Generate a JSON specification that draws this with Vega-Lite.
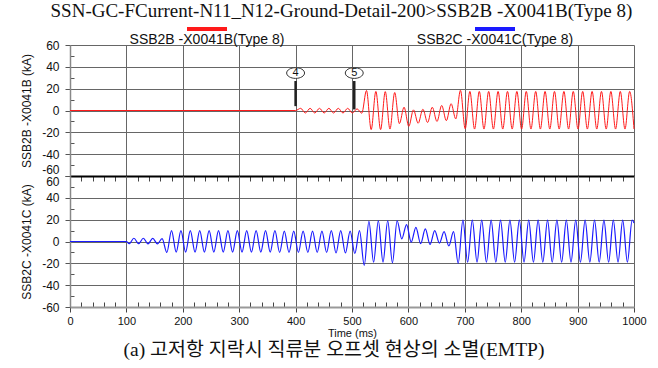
{
  "$schema": "https://vega.github.io/schema/vega-lite/v6.json",
  "background": "white",
  "padding": {"left": 20, "top": 2, "right": 8, "bottom": 2},
  "title": {"text": "SSN-GC-FCurrent-N11_N12-Ground-Detail-200>SSB2B -X0041B(Type 8)", "font": "Liberation Serif", "fontSize": 19, "fontWeight": "normal", "color": "#111", "anchor": "middle", "offset": -14, "dx": 8},
  "config": {"font": "Liberation Sans", "view": {"stroke": null}},
  "datasets": {
    "w": [
      {"s":"B","t":0,"i":0},{"s":"B","t":400,"i":0},{"s":"B","t":409,"i":2},{"s":"B","t":417.3,"i":-2.3},{"s":"B","t":425.7,"i":2},{"s":"B","t":434,"i":-2.3},{"s":"B","t":442.3,"i":2},{"s":"B","t":450.7,"i":-2.3},{"s":"B","t":459,"i":2},{"s":"B","t":467.3,"i":-2.3},{"s":"B","t":475.7,"i":2},{"s":"B","t":484,"i":-2.3},{"s":"B","t":492.3,"i":2},{"s":"B","t":500.7,"i":-2.3},{"s":"B","t":509,"i":1.5},{"s":"B","t":517.3,"i":-2.5},{"s":"B","t":525.7,"i":18.3},{"s":"B","t":534,"i":-17.5},{"s":"B","t":542.3,"i":17.5},{"s":"B","t":550.7,"i":-17.5},{"s":"B","t":559,"i":17.3},{"s":"B","t":567.3,"i":-17},{"s":"B","t":575.7,"i":16.5},{"s":"B","t":584,"i":-12},{"s":"B","t":592.3,"i":3},{"s":"B","t":600.7,"i":-14.5},{"s":"B","t":609,"i":0.6},{"s":"B","t":617.3,"i":-11.7},{"s":"B","t":625.7,"i":1.2},{"s":"B","t":634,"i":-11},{"s":"B","t":642.3,"i":3},{"s":"B","t":650.7,"i":-10},{"s":"B","t":659,"i":4.6},{"s":"B","t":667.3,"i":-9.3},{"s":"B","t":675.7,"i":6.2},{"s":"B","t":684,"i":-7.7},{"s":"B","t":692.3,"i":18.5},{"s":"B","t":700.7,"i":-16.8},{"s":"B","t":709,"i":17.5},{"s":"B","t":717.3,"i":-17},{"s":"B","t":725.7,"i":17.5},{"s":"B","t":734,"i":-17},{"s":"B","t":742.3,"i":17.5},{"s":"B","t":750.7,"i":-17},{"s":"B","t":759,"i":17.5},{"s":"B","t":767.3,"i":-17},{"s":"B","t":775.7,"i":17.5},{"s":"B","t":784,"i":-17},{"s":"B","t":792.3,"i":17.5},{"s":"B","t":800.7,"i":-17},{"s":"B","t":809,"i":17.5},{"s":"B","t":817.3,"i":-17},{"s":"B","t":825.7,"i":17.5},{"s":"B","t":834,"i":-17},{"s":"B","t":842.3,"i":17.5},{"s":"B","t":850.7,"i":-17},{"s":"B","t":859,"i":17.5},{"s":"B","t":867.3,"i":-17},{"s":"B","t":875.7,"i":17.5},{"s":"B","t":884,"i":-17},{"s":"B","t":892.3,"i":17.5},{"s":"B","t":900.7,"i":-17},{"s":"B","t":909,"i":17.5},{"s":"B","t":917.3,"i":-17},{"s":"B","t":925.7,"i":17.5},{"s":"B","t":934,"i":-17},{"s":"B","t":942.3,"i":17.5},{"s":"B","t":950.7,"i":-17},{"s":"B","t":959,"i":17.5},{"s":"B","t":967.3,"i":-17},{"s":"B","t":975.7,"i":17.5},{"s":"B","t":984,"i":-17},{"s":"B","t":992.3,"i":17.5},{"s":"B","t":1000,"i":-17},
      {"s":"C","t":0,"i":0},{"s":"C","t":100,"i":0},{"s":"C","t":105,"i":-2},{"s":"C","t":113.3,"i":3},{"s":"C","t":121.7,"i":-2},{"s":"C","t":130,"i":3},{"s":"C","t":138.3,"i":-2.2},{"s":"C","t":146.7,"i":2.8},{"s":"C","t":155,"i":-2.2},{"s":"C","t":163.3,"i":2.6},{"s":"C","t":171.7,"i":-10},{"s":"C","t":180,"i":10},{"s":"C","t":188.3,"i":-9.7},{"s":"C","t":196.7,"i":10},{"s":"C","t":205,"i":-9.7},{"s":"C","t":213.3,"i":10},{"s":"C","t":221.7,"i":-9.7},{"s":"C","t":230,"i":10},{"s":"C","t":238.3,"i":-9.7},{"s":"C","t":246.7,"i":10},{"s":"C","t":255,"i":-9.7},{"s":"C","t":263.3,"i":10},{"s":"C","t":271.7,"i":-9.7},{"s":"C","t":280,"i":10},{"s":"C","t":288.3,"i":-9.7},{"s":"C","t":296.7,"i":10},{"s":"C","t":305,"i":-9.7},{"s":"C","t":313.3,"i":10},{"s":"C","t":321.7,"i":-9.7},{"s":"C","t":330,"i":10},{"s":"C","t":338.3,"i":-9.7},{"s":"C","t":346.7,"i":10},{"s":"C","t":355,"i":-9.7},{"s":"C","t":363.3,"i":10},{"s":"C","t":371.7,"i":-10},{"s":"C","t":380,"i":9.5},{"s":"C","t":388.3,"i":-10},{"s":"C","t":396.7,"i":9.5},{"s":"C","t":405,"i":-10},{"s":"C","t":413.3,"i":9.5},{"s":"C","t":421.7,"i":-10},{"s":"C","t":430,"i":9.5},{"s":"C","t":438.3,"i":-10},{"s":"C","t":446.7,"i":9.5},{"s":"C","t":455,"i":-10},{"s":"C","t":463.3,"i":10},{"s":"C","t":471.7,"i":-10.5},{"s":"C","t":480,"i":10},{"s":"C","t":488.3,"i":-10.5},{"s":"C","t":496.7,"i":9.5},{"s":"C","t":505,"i":-11},{"s":"C","t":513.3,"i":10},{"s":"C","t":521.7,"i":-22},{"s":"C","t":530,"i":18.5},{"s":"C","t":538.3,"i":-19},{"s":"C","t":546.7,"i":19},{"s":"C","t":555,"i":-19},{"s":"C","t":563.3,"i":19},{"s":"C","t":571.7,"i":-19.5},{"s":"C","t":580,"i":19},{"s":"C","t":588.3,"i":2.4},{"s":"C","t":596.7,"i":15.5},{"s":"C","t":605,"i":-0.6},{"s":"C","t":613.3,"i":13},{"s":"C","t":621.7,"i":-2},{"s":"C","t":630,"i":11.5},{"s":"C","t":638.3,"i":-2.7},{"s":"C","t":646.7,"i":10},{"s":"C","t":655,"i":-1.5},{"s":"C","t":663.3,"i":9},{"s":"C","t":671.7,"i":-4},{"s":"C","t":680,"i":9},{"s":"C","t":688.3,"i":-20},{"s":"C","t":696.7,"i":19.5},{"s":"C","t":705,"i":-19},{"s":"C","t":713.3,"i":19.5},{"s":"C","t":721.7,"i":-19},{"s":"C","t":730,"i":19.5},{"s":"C","t":738.3,"i":-19},{"s":"C","t":746.7,"i":19.5},{"s":"C","t":755,"i":-19},{"s":"C","t":763.3,"i":19.5},{"s":"C","t":771.7,"i":-19},{"s":"C","t":780,"i":19.5},{"s":"C","t":788.3,"i":-19},{"s":"C","t":796.7,"i":19.5},{"s":"C","t":805,"i":-19},{"s":"C","t":813.3,"i":19.5},{"s":"C","t":821.7,"i":-19},{"s":"C","t":830,"i":19.5},{"s":"C","t":838.3,"i":-19},{"s":"C","t":846.7,"i":19.5},{"s":"C","t":855,"i":-19},{"s":"C","t":863.3,"i":19.5},{"s":"C","t":871.7,"i":-19},{"s":"C","t":880,"i":19.5},{"s":"C","t":888.3,"i":-19},{"s":"C","t":896.7,"i":19.5},{"s":"C","t":905,"i":-19},{"s":"C","t":913.3,"i":19.5},{"s":"C","t":921.7,"i":-19},{"s":"C","t":930,"i":19.5},{"s":"C","t":938.3,"i":-19},{"s":"C","t":946.7,"i":19.5},{"s":"C","t":955,"i":-19},{"s":"C","t":963.3,"i":19.5},{"s":"C","t":971.7,"i":-19},{"s":"C","t":980,"i":19.5},{"s":"C","t":988.3,"i":-19},{"s":"C","t":996.7,"i":19.5},{"s":"C","t":1000,"i":17}
    ],
    "m": [
      {"t": 400, "y0": 4, "y1": 27, "n": "4"},
      {"t": 504, "y0": 1, "y1": 27, "n": "5"}
    ]
  },
  "spacing": 0,
  "bounds": "flush",
  "vconcat": [
    {
      "width": 564,
      "height": 131,
      "resolve": {"axis": {"x": "independent", "y": "independent"}},
      "layer": [
        {
          "data": {"name": "w"},
          "transform": [{"filter": "datum.s === 'B'"}],
          "mark": {"type": "line", "interpolate": "monotone", "strokeWidth": 1},
          "encoding": {
            "x": {"field": "t", "type": "quantitative", "scale": {"domain": [0, 1000], "nice": false},
              "axis": {"title": null, "values": [0,20,40,60,80,100,120,140,160,180,200,220,240,260,280,300,320,340,360,380,400,420,440,460,480,500,520,540,560,580,600,620,640,660,680,700,720,740,760,780,800,820,840,860,880,900,920,940,960,980,1000],
                "labels": false, "tickSize": 5, "tickColor": "#444",
                "tickOpacity": {"condition": {"test": "datum.value % 100 === 0", "value": 0}, "value": 1},
                "grid": true, "gridColor": "#666",
                "gridOpacity": {"condition": {"test": "datum.value % 100 !== 0", "value": 0}, "value": 1},
                "domainColor": "#000", "domainWidth": 2}},
            "y": {"field": "i", "type": "quantitative", "scale": {"domain": [-60, 60], "nice": false},
              "axis": {"title": "SSB2B -X0041B  (kA)", "titleFontSize": 12, "titleFontWeight": "normal", "titleColor": "#111", "titlePadding": 8,
                "values": [-60,-50,-40,-30,-20,-10,0,10,20,30,40,50,60],
                "labelExpr": "datum.value % 20 === 0 ? '' + datum.value : ''", "labelOverlap": false, "labelFlush": false,
                "labelFontSize": 12, "labelColor": "#111", "labelPadding": 6,
                "labelBaseline": {"condition": {"test": "datum.value === -60", "value": "bottom"}, "value": "middle"},
                "tickSize": {"condition": {"test": "datum.value % 20 === 0", "value": 5}, "value": -4}, "tickColor": "#555",
                "grid": true, "gridColor": "#666",
                "gridOpacity": {"condition": {"test": "datum.value % 20 !== 0", "value": 0}, "value": 1},
                "domainColor": "#888", "domainWidth": 1.5}},
            "color": {"field": "s", "type": "nominal", "scale": {"domain": ["B", "C"], "range": ["#ff1a1a", "#1a1aff"]},
              "legend": {"orient": "none", "legendX": 115, "legendY": -38, "direction": "horizontal", "title": null, "symbolType": "stroke", "symbolSize": 1600, "symbolStrokeWidth": 4,
                "labelFontSize": 14, "labelColor": "#111", "labelAlign": "center", "labelOffset": -22, "columnPadding": 131, "padding": 0,
                "labelExpr": "datum.label === 'B' ? 'SSB2B -X0041B(Type 8)' : 'SSB2C -X0041C(Type 8)'",
                "encode": {"labels": {"update": {"dy": {"value": 11}}}}}}
          }
        },
        {
          "data": {"name": "m"},
          "mark": {"type": "rule", "color": "#222", "strokeWidth": 2.5},
          "encoding": {
            "x": {"field": "t", "type": "quantitative", "axis": null},
            "y": {"field": "y0", "type": "quantitative", "axis": null},
            "y2": {"field": "y1"}
          }
        },
        {
          "data": {"name": "m"},
          "mark": {"type": "point", "shape": "M-1,0A1,0.6,0,1,1,1,0A1,0.6,0,1,1,-1,0Z", "size": 320, "filled": true, "fill": "white", "stroke": "#333", "strokeWidth": 1, "opacity": 1, "yOffset": -8},
          "encoding": {
            "x": {"field": "t", "type": "quantitative", "axis": null},
            "y": {"field": "y1", "type": "quantitative", "axis": null}
          }
        },
        {
          "data": {"name": "m"},
          "mark": {"type": "text", "fontSize": 11, "color": "#111", "yOffset": -8, "baseline": "middle"},
          "encoding": {
            "x": {"field": "t", "type": "quantitative", "axis": null},
            "y": {"field": "y1", "type": "quantitative", "axis": null},
            "text": {"field": "n"}
          }
        }
      ]
    },
    {
      "width": 564,
      "height": 131,
      "title": {"text": "(a) 고저항 지락시 직류분 오프셋 현상의 소멸(EMTP)", "orient": "bottom", "anchor": "middle", "font": "Liberation Serif, Noto Sans CJK KR", "fontSize": 19.5, "fontWeight": "normal", "color": "#111", "offset": 3, "dx": -18},
      "data": {"name": "w"},
      "transform": [{"filter": "datum.s === 'C'"}],
      "mark": {"type": "line", "interpolate": "monotone", "strokeWidth": 1.2},
      "encoding": {
        "x": {"field": "t", "type": "quantitative", "scale": {"domain": [0, 1000], "nice": false},
          "axis": {"title": "Time (ms)", "titleFontSize": 11, "titleFontWeight": "normal", "titleColor": "#111", "titlePadding": 1,
            "values": [0,20,40,60,80,100,120,140,160,180,200,220,240,260,280,300,320,340,360,380,400,420,440,460,480,500,520,540,560,580,600,620,640,660,680,700,720,740,760,780,800,820,840,860,880,900,920,940,960,980,1000],
            "labelExpr": "datum.value % 100 === 0 ? '' + datum.value : ''", "labelFlush": false, "labelOverlap": false,
            "labelFontSize": 11, "labelColor": "#111", "labelPadding": 3,
            "tickSize": {"condition": {"test": "datum.value % 100 === 0", "value": 5}, "value": -5}, "tickColor": "#444",
            "grid": true, "gridColor": "#666",
            "gridOpacity": {"condition": {"test": "datum.value % 100 !== 0", "value": 0}, "value": 1},
            "domainColor": "#999", "domainWidth": 2}},
        "y": {"field": "i", "type": "quantitative", "scale": {"domain": [-60, 60], "nice": false},
          "axis": {"title": "SSB2C -X0041C  (kA)", "titleFontSize": 12, "titleFontWeight": "normal", "titleColor": "#111", "titlePadding": 8,
            "values": [-60,-50,-40,-30,-20,-10,0,10,20,30,40,50,60],
            "labelExpr": "datum.value % 20 === 0 ? '' + datum.value : ''", "labelOverlap": false, "labelFlush": false,
            "labelFontSize": 12, "labelColor": "#111", "labelPadding": 6,
            "labelBaseline": {"condition": {"test": "datum.value === 60", "value": "top"}, "value": "middle"},
            "tickSize": {"condition": {"test": "datum.value % 20 === 0", "value": 5}, "value": -4}, "tickColor": "#555",
            "grid": true, "gridColor": "#666",
            "gridOpacity": {"condition": {"test": "datum.value % 20 !== 0 || datum.value === 60", "value": 0}, "value": 1},
            "domainColor": "#888", "domainWidth": 1.5}},
        "color": {"field": "s", "type": "nominal", "scale": {"domain": ["B", "C"], "range": ["#ff1a1a", "#1a1aff"]}}
      }
    }
  ]
}
